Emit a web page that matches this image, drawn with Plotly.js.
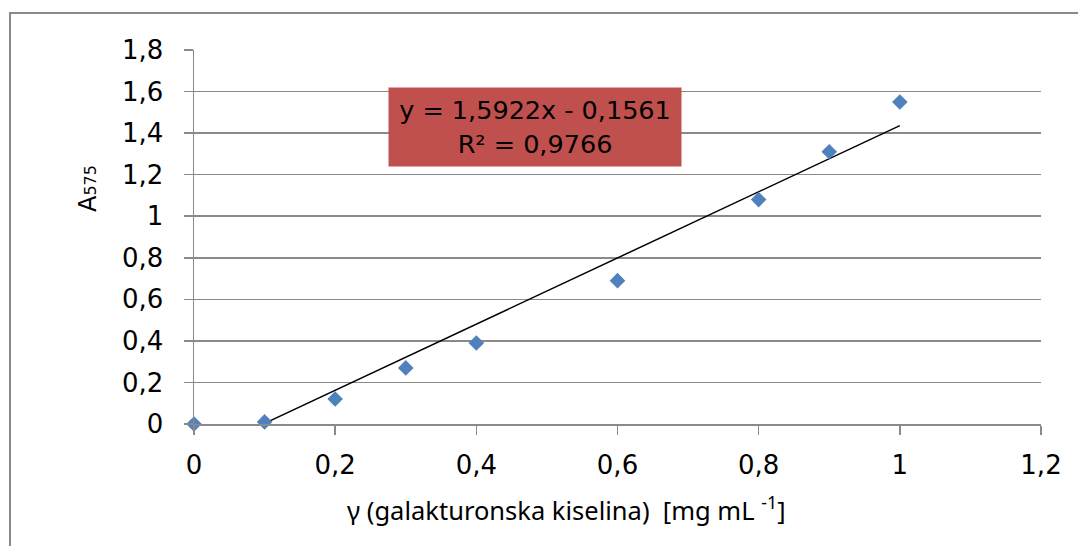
<!DOCTYPE html>
<html>
<head>
<meta charset="utf-8">
<script src="https://cdn.plot.ly/plotly-3.0.1.min.js"></script>
<style>
html,body{margin:0;padding:0;overflow:hidden;background:#fff;}
#frame{position:absolute;left:9px;top:12px;width:1200px;height:700px;border:2px solid #8a8a8a;box-sizing:border-box;}
#chart{position:absolute;left:0;top:0;width:1078px;height:546px;}
</style>
</head>
<body>
<div id="frame"></div>
<div id="chart"></div>
<script>
// Data
const concentration = [0, 0.1, 0.2, 0.3, 0.4, 0.6, 0.8, 0.9, 1.0];
const absorbance   = [0, 0.01, 0.12, 0.27, 0.39, 0.69, 1.08, 1.31, 1.55];
const slope = 1.5922;
const intercept = -0.1561;
const trendX = [0.1, 1.0];
const trendY = trendX.map(x => slope * x + intercept);
const xTicks = [0, 0.2, 0.4, 0.6, 0.8, 1, 1.2];
const yTicks = [0, 0.2, 0.4, 0.6, 0.8, 1, 1.2, 1.4, 1.6, 1.8];
const eqText = "y = 1,5922x - 0,1561<br>R² = 0,9766";
const xTitle = "γ (galakturonska kiselina)  [mg mL <sup>-1</sup>]";
const yTitle = "A<span style='font-size:16px'>575</span>";

const gray = "#8a8a8a";

const traces = [
  {
    x: trendX, y: trendY, type: "scatter", mode: "lines",
    line: {color: "#000", width: 1.5}, hoverinfo: "skip", cliponaxis: false
  },
  {
    x: concentration, y: absorbance, type: "scatter", mode: "markers",
    marker: {symbol: "diamond", size: 12, color: "#4F81BD"},
    cliponaxis: false
  }
];

const layout = {
  width: 1078, height: 546,
  margin: {l: 194, r: 37, t: 50, b: 122},
  paper_bgcolor: "rgba(0,0,0,0)",
  plot_bgcolor: "rgba(0,0,0,0)",
  showlegend: false,
  separators: ", ",
  font: {family: "DejaVu Sans", color: "#000"},
  xaxis: {
    range: [0, 1.2], tickvals: xTicks, showgrid: false, zeroline: false,
    showline: true, linecolor: gray, linewidth: 1.5,
    ticks: "outside", ticklen: 9, tickwidth: 1.5, tickcolor: gray,
    tickfont: {family: "DejaVu Sans", size: 26, color: "#000"},
    ticklabelstandoff: 8
  },
  yaxis: {
    range: [0, 1.8], tickvals: yTicks, showgrid: true, gridcolor: gray, gridwidth: 1.5,
    zeroline: false, showline: true, linecolor: gray, linewidth: 1.5,
    ticks: "outside", ticklen: 9, tickwidth: 1.5, tickcolor: gray,
    tickfont: {family: "DejaVu Sans", size: 26, color: "#000"},
    ticklabelstandoff: 15
  },
  annotations: [
    {
      x: 0.483, y: 1.43, xref: "x", yref: "y", showarrow: false,
      text: eqText, align: "center",
      font: {family: "DejaVu Sans", size: 25.5, color: "#000"},
      bgcolor: "#C0504D", width: 292, height: 78, borderpad: 0,
      xanchor: "center", yanchor: "middle"
    },
    {
      x: 566, y: 508, xref: "paper", yref: "paper", showarrow: false,
      text: xTitle,
      font: {family: "Noto Sans", size: 25.5, color: "#000"},
      xanchor: "center", yanchor: "middle"
    },
    {
      x: 88, y: 188, xref: "paper", yref: "paper", showarrow: false,
      text: yTitle, textangle: -90,
      font: {family: "DejaVu Sans", size: 24, color: "#000"},
      xanchor: "center", yanchor: "middle"
    }
  ]
};

// convert pixel positions of title annotations to paper coords
const pw = 1078 - 194 - 37, ph = 546 - 50 - 122;
layout.annotations[1].x = (566 - 194) / pw;
layout.annotations[1].y = (546 - 122 - 508) / ph;
layout.annotations[2].x = (88 - 194) / pw;
layout.annotations[2].y = (546 - 122 - 188) / ph;

Plotly.newPlot("chart", traces, layout, {staticPlot: true});
</script>
</body>
</html>
